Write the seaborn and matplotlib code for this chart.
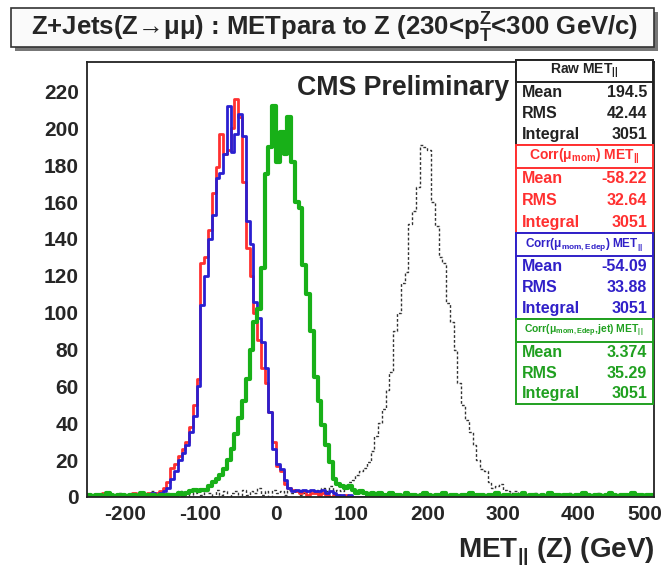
import matplotlib
matplotlib.use('Agg')
import matplotlib.pyplot as plt
from matplotlib.patches import Rectangle
from matplotlib.transforms import ScaledTranslation
import numpy as np
import pandas as pd
import seaborn as sns

# histogram binning (GeV)
bin_lo, bin_hi, bin_w = -250, 500, 5

# counts per 5 GeV bin, each series starts at bin_lo
red_counts = [0, 1, 0, 0, 2, 0, 1, 0, 0, 1,
              0, 1, 2, 1, 0, 1, 2, 1, 2, 3,
              5, 8, 16, 18, 22, 26, 30, 38, 50, 64,
              127, 130, 145, 165, 179, 197, 186, 188, 200, 216,
              206, 171, 135, 120, 100, 85, 70, 62, 46, 30,
              17, 14, 7, 5, 4, 3, 2, 3, 1, 2,
              2, 1, 2, 1, 0, 1, 1, 0, 1, 0]
blue_counts = [0, 0, 1, 0, 0, 1, 0, 0, 0, 0,
               0, 0, 1, 0, 1, 0, 1, 2, 1, 2,
               3, 5, 10, 14, 20, 24, 28, 35, 44, 60,
               104, 120, 140, 153, 173, 176, 186, 212, 187, 197,
               208, 196, 150, 137, 106, 97, 84, 70, 46, 26,
               18, 15, 9, 5, 3, 4, 3, 4, 3, 4,
               3, 3, 4, 2, 3, 2, 1, 1, 0, 1]
green_counts = [1, 0, 1, 1, 0, 2, 1, 0, 1, 1,
                0, 1, 1, 0, 2, 0, 1, 1, 0, 1,
                0, 1, 1, 1, 2, 1, 2, 3, 4, 3,
                4, 4, 6, 8, 10, 12, 15, 20, 26, 34,
                43, 52, 64, 80, 95, 102, 124, 175, 190, 212,
                182, 198, 186, 206, 182, 160, 157, 126, 110, 90,
                65, 52, 39, 28, 19, 10, 7, 6, 5, 6,
                4, 2, 3, 2, 1, 2, 1, 2, 1, 1,
                2, 1, 1, 0, 2, 1, 1, 0, 1, 2,
                1, 0, 1, 1, 2, 0, 1, 1, 0, 1,
                1, 2, 0, 1, 1, 0, 1, 1, 2, 0,
                1, 1, 0, 1, 1, 2, 0, 1, 1, 0,
                1, 0, 2, 1, 1, 0, 1, 1, 0, 1,
                1, 2, 1, 0, 1, 1, 0, 1, 2, 1,
                0, 1, 1, 0, 2, 1, 1, 0, 1, 1]
raw_counts = [0, 1, 0, 0, 0, 1, 0, 0, 2, 0,
              1, 0, 0, 2, 0, 1, 0, 3, 0, 1,
              0, 2, 1, 0, 3, 1, 2, 0, 2, 3,
              1, 3, 2, 0, 4, 1, 3, 0, 2, 3,
              0, 4, 1, 3, 2, 5, 1, 3, 0, 4,
              2, 3, 1, 4, 2, 3, 1, 2, 4, 3,
              4, 2, 5, 3, 6, 2, 4, 3, 5, 8,
              9, 12, 14, 16, 19, 25, 33, 40, 48, 58,
              68, 90, 100, 116, 122, 148, 155, 168, 191, 190,
              188, 160, 147, 130, 127, 105, 95, 80, 62, 50,
              42, 35, 28, 20, 15, 14, 8, 5, 6, 7,
              4, 3, 2, 3, 1, 2, 0, 1, 2, 0,
              1, 0, 2, 0, 1, 1, 0, 2, 0, 1,
              0, 1, 0, 1, 0, 2, 0, 1, 0, 0,
              1, 0, 1, 0, 0, 1, 0, 0, 1, 0]

box_titles = [r'Raw MET$_{||}$', r'Corr($\mu_{mom}$) MET$_{||}$',
              r'Corr($\mu_{mom,Edep}$) MET$_{||}$', r'Corr($\mu_{mom,Edep}$,jet) MET$_{||}$']
box_means = ['194.5', '-58.22', '-54.09', '3.374']
box_rms = ['42.44', '32.64', '33.88', '35.29']
box_integrals = ['3051', '3051', '3051', '3051']

sns.set_style('white')
plt.rcParams['font.family'] = ['Liberation Sans', 'DejaVu Sans']
plt.rcParams['mathtext.default'] = 'regular'
plt.rcParams['axes.unicode_minus'] = False

W, H = 667, 569
fig = plt.figure(figsize=(W / 100, H / 100), dpi=100)
ax = fig.add_axes([87 / W, 1 - 497 / H, (654 - 87) / W, (497 - 62) / H])

edges = np.arange(bin_lo, bin_hi + bin_w, bin_w)
centers = edges[:-1] + bin_w / 2


def draw(counts, color, lw, ls='-'):
    df = pd.DataFrame({'met': centers[:len(counts)], 'n': counts})
    sns.histplot(data=df, x='met', weights='n', binwidth=bin_w, binrange=(bin_lo, bin_hi),
                 element='step', fill=False, color=color, linewidth=lw, linestyle=ls, ax=ax)


draw(raw_counts, '#333333', 1.0, (0, (2, 1.5)))
draw(red_counts, '#ff3030', 2.0)
draw(blue_counts, '#2a1fd0', 2.0)
draw(green_counts, '#18b018', 3.0)

ax.set_xlim(bin_lo, bin_hi)
ax.set_ylim(0, 236)
ax.set_xlabel('')
ax.set_ylabel('')
ax.set_xticks(np.arange(-200, 501, 100))
ax.set_xticks(np.arange(-250, 501, 10), minor=True)
ax.set_yticks(np.arange(0, 221, 20))
ax.set_yticks(np.arange(0, 236, 4), minor=True)
ax.tick_params(which='both', direction='in', top=False, right=False, width=1, color='#333333')
ax.tick_params(which='major', length=11, labelsize=15, pad=6)
ax.tick_params(which='minor', length=5)
for lab in ax.get_xticklabels() + ax.get_yticklabels():
    lab.set_fontweight('bold')
# last x label sits a bit left of its tick, as in the reference
last = ax.get_xticklabels()[-1]
last.set_transform(last.get_transform() + ScaledTranslation(-0.09, 0, fig.dpi_scale_trans))
for sp in ax.spines.values():
    sp.set_linewidth(1.3)
    sp.set_color('#222222')

renderer = fig.canvas.get_renderer()


def fit(t, width_px):
    # shrink a text until it spans the width seen in the reference
    w = t.get_window_extent(renderer).width
    t.set_fontsize(t.get_fontsize() * width_px / w)


xlab = fig.text(655 / W, 1 - 558 / H, r'MET$_{||}$ (Z) (GeV)', ha='right', va='baseline',
                fontsize=22, fontweight='bold')
fit(xlab, 196)

cms = ax.text(297 / W, 1 - 95 / H, 'CMS Preliminary', transform=fig.transFigure, ha='left',
              va='baseline', fontsize=18, fontweight='bold', zorder=10,
              bbox=dict(facecolor='white', edgecolor='none', pad=1))
fit(cms, 212)


def px_rect(x0, y0, x1, y1, **kw):
    r = Rectangle((x0 / W, 1 - y1 / H), (x1 - x0) / W, (y1 - y0) / H,
                  transform=fig.transFigure, **kw)
    fig.add_artist(r)


# title box
px_rect(15, 12, 658, 51, facecolor='#777777', edgecolor='none')
px_rect(11, 8, 654, 47, facecolor='#fafafa', edgecolor='#333333', linewidth=1.2)
title = fig.text(335 / W, 1 - 28 / H, 'Z+Jets(Z→μμ) : METpara to Z (230<p$_{T}^{Z}$<300 GeV/c)',
                 ha='center', va='center', fontsize=20, fontweight='bold')
fit(title, 606)

# stat boxes
box_colors = ['#222222', '#ff3030', '#3020c8', '#20a020']
box_rows = [(60, 82, 145), (145, 168, 233), (233, 256, 319), (319, 342, 404)]
head_sizes = [10, 10, 8.5, 7.5]
for i, (y0, y1, y2) in enumerate(box_rows):
    c = box_colors[i]
    px_rect(516, y0, 653, y2, facecolor='white', edgecolor=c, linewidth=1.4, zorder=5)
    px_rect(516, y0, 653, y1, facecolor='white', edgecolor=c, linewidth=1.4, zorder=5)
    fig.text(584 / W, 1 - (y0 + y1) / 2 / H, box_titles[i], ha='center', va='center',
             fontsize=head_sizes[i], fontweight='bold', color=c, zorder=6)
    step = (y2 - y1) / 3
    for j, (name, val) in enumerate(zip(['Mean', 'RMS', 'Integral'],
                                        [box_means[i], box_rms[i], box_integrals[i]])):
        yy = 1 - (y1 + step * (j + 0.5)) / H
        fig.text(522 / W, yy, name, ha='left', va='center', fontsize=11.5,
                 fontweight='bold', color=c, zorder=6)
        fig.text(647 / W, yy, val, ha='right', va='center', fontsize=11.5,
                 fontweight='bold', color=c, zorder=6)

fig.savefig('out.png', dpi=100)
